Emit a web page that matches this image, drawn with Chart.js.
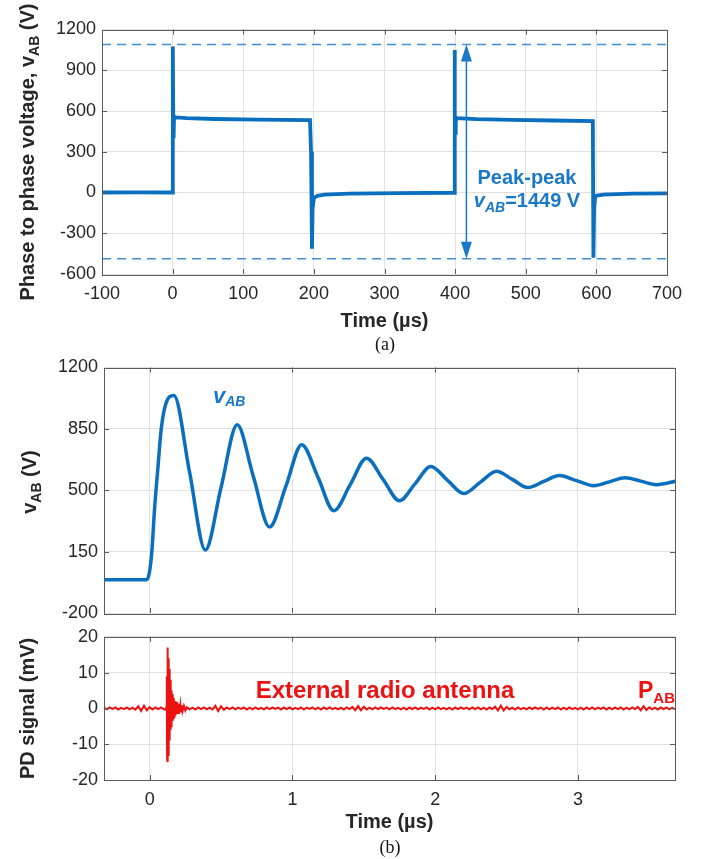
<!DOCTYPE html>
<html><head><meta charset="utf-8">
<script src="https://cdn.jsdelivr.net/npm/chart.js@4.4.1/dist/chart.umd.min.js"></script>
<style>
html,body{margin:0;padding:0;background:#fff;}
body{width:709px;height:859px;position:relative;overflow:hidden;}
canvas{position:absolute;left:0;}
.cap{position:absolute;font-family:"Liberation Serif","Times New Roman",serif;font-size:18px;color:#111;transform:translate(-50%,-50%);white-space:nowrap;}
</style></head><body>
<canvas id="ca" width="709" height="335" style="top:0px"></canvas>
<canvas id="cb" width="709" height="280" style="top:350px"></canvas>
<canvas id="cc" width="709" height="239" style="top:620px"></canvas>
<div class="cap" style="left:385px;top:344px">(a)</div>
<div class="cap" style="left:390px;top:847px">(b)</div>
<script>
// ---------- DATA ----------
// (a) phase-to-phase voltage over two switching periods
const timeA = [-100, -50, -0.3, 0.3, 0.9, 1.4, 2.0, 5, 20, 60, 120, 194.5, 196, 197.3, 198.2, 200, 205, 215, 250, 320, 398.6, 399.2, 399.8, 400.3, 400.9, 403, 430, 480, 540, 595, 595.8, 596.8, 598.5, 610, 650, 700];
const voltA = [0, 1, 0, 1075, 540, 400, 560, 553, 548, 541, 537, 533, 300, -414, -120, -40, -25, -15, -8, -4, -2, 1049, 560, 440, 552, 547, 540, 534, 530, 526, -480, -110, -25, -15, -8, -6];
const xTicksA = [-100, 0, 100, 200, 300, 400, 500, 600, 700];
const yTicksA = [-600, -300, 0, 300, 600, 900, 1200];
const peakLevelsA = [1090, -487];
const arrowTimeA = 416;
const peakPeakValue = '1449';

// (b) top: vAB ringing after switching edge
const timeB = [-0.32, -0.02, 0.012, 0.035, 0.058, 0.08, 0.11, 0.17, 0.28, 0.39, 0.50, 0.613, 0.725, 0.84, 0.955, 1.065, 1.18, 1.29, 1.405, 1.519, 1.635, 1.75, 1.86, 1.97, 2.085, 2.2, 2.315, 2.43, 2.54, 2.65, 2.76, 2.87, 2.99, 3.11, 3.22, 3.33, 3.44, 3.55, 3.69];
const voltB = [-10, -10, 120, 403, 631, 843, 985, 1041, 600, 159, 516, 873, 582, 290, 525, 760, 572, 383, 532, 683, 562, 440, 538, 636, 558, 481, 545, 608, 562, 515, 550, 584, 555, 526, 548, 571, 552, 532, 552];
const xTicksB = [0, 1, 2, 3];
const yTicksB = [-200, 150, 500, 850, 1200];

// (b) bottom: PD signal from external radio antenna (mV)
const pdBeforeStart = -0.32, pdStep = 0.02;
const pdBefore = [0.2,-0.25,0.3,-0.15,0.25,-0.3,0.15,-0.2,0.3,-0.25,0.2,-0.35,0.6,-0.7,0.75,-0.55,0.35,-0.3,0.25,-0.2,0.3,-0.25];
const pdBurstTime = [0.112,0.118,0.120,0.122,0.124,0.126,0.128,0.130,0.132,0.134,0.136,0.138,0.140,0.142,0.144,0.146,0.148,0.150,0.152,0.155,0.158,0.161,0.164,0.167,0.170,0.174,0.178,0.182,0.186,0.190,0.195,0.200,0.205,0.210,0.215,0.220,0.225,0.230,0.240,0.250];
const pdBurstVal = [-0.4,0.5,9,-14,17,-15,16,-13,14,-11,11,-9,9,-7,8,-6,6,-5,5,-4,4,-3.5,3,-3,2.5,-2.5,2,-2,1.8,-1.5,1.5,-1.3,1.2,-1,1,-0.9,0.9,-0.8,0.7,-0.6];
const pdAfterStart = 0.26;
const pdAfter = [
0.3,-0.25,0.2,-0.3,0.25,-0.2,0.3,-0.25,0.2,-0.3,
0.7,-0.75,0.6,-0.4,0.25,-0.2,0.3,-0.25,0.2,-0.15,
0.25,-0.3,0.2,-0.25,0.3,-0.2,0.15,-0.25,0.3,-0.2,
0.25,-0.15,0.2,-0.3,0.25,-0.2,0.3,-0.25,0.15,-0.2,
0.25,-0.3,0.2,-0.15,0.25,-0.25,0.2,-0.3,0.25,-0.2,
0.3,-0.2,0.15,-0.25,0.2,-0.3,0.25,-0.2,0.4,-0.5,
0.65,-0.55,0.45,-0.3,0.2,-0.25,0.3,-0.2,0.25,-0.15,
0.2,-0.25,0.3,-0.2,0.15,-0.25,0.2,-0.3,0.25,-0.2,
0.3,-0.25,0.2,-0.15,0.25,-0.3,0.2,-0.25,0.3,-0.2,
0.15,-0.25,0.2,-0.3,0.25,-0.2,0.3,-0.15,0.2,-0.25,
0.25,-0.2,0.3,-0.25,0.2,-0.3,0.25,-0.2,0.45,-0.6,
0.75,-0.6,0.4,-0.25,0.2,-0.3,0.25,-0.2,0.15,-0.25,
0.3,-0.2,0.25,-0.15,0.2,-0.3,0.25,-0.25,0.2,-0.2,
0.25,-0.3,0.2,-0.25,0.3,-0.2,0.15,-0.25,0.2,-0.3,
0.25,-0.2,0.3,-0.25,0.2,-0.15,0.25,-0.3,0.2,-0.25,
0.3,-0.2,0.25,-0.3,0.2,-0.25,0.3,-0.2,0.4,-0.55,
0.6,-0.45,0.3,-0.25,0.2,-0.3,0.25,-0.2,0.3,-0.25,
0.2,-0.25];
const yTicksPD = [-20, -10, 0, 10, 20];

// ---------- STYLE / HELPERS ----------
const FONT = '"Liberation Sans", Arial, Helvetica, sans-serif';
Chart.defaults.font.family = FONT;
Chart.defaults.color = '#262626';
const BLUE = '#0b6fc0', DASH = '#3f8fd4', RED = '#ee1111', GRID = '#e1e1e1';

function pts(xs, ys) { return xs.map((x, i) => ({x: x, y: ys[i]})); }
function grid(start, step, n) { const r = []; for (let i = 0; i < n; i++) r.push(Math.round((start + i * step) * 1000) / 1000); return r; }

const pdTime = grid(pdBeforeStart, pdStep, pdBefore.length).concat(pdBurstTime, grid(pdAfterStart, pdStep, pdAfter.length));
const pdVal = pdBefore.concat(pdBurstVal, pdAfter);

function drawRuns(ctx, item) {
  ctx.save();
  ctx.translate(item.x, item.y);
  if (item.rotate) ctx.rotate(item.rotate);
  let total = 0; const ws = [];
  item.runs.forEach(r => { ctx.font = r.font; const w = ctx.measureText(r.t).width; ws.push(w); total += w; });
  let x = item.align === 'left' ? 0 : -total / 2;
  ctx.textBaseline = 'alphabetic';
  item.runs.forEach((r, i) => { ctx.font = r.font; ctx.fillStyle = r.color || item.color || '#262626'; ctx.fillText(r.t, x, r.dy || 0); x += ws[i]; });
  ctx.restore();
}

const framePlugin = {
  id: 'frame',
  afterDraw(chart, args, opts) {
    const ctx = chart.ctx, a = chart.chartArea, xs = chart.scales.x, ys = chart.scales.y;
    ctx.save();
    if (opts.arrow) {
      const ar = opts.arrow;
      const px = xs.getPixelForValue(ar.x), p1 = ys.getPixelForValue(ar.y1), p2 = ys.getPixelForValue(ar.y2);
      ctx.strokeStyle = ar.color; ctx.fillStyle = ar.color; ctx.lineWidth = 1.5;
      ctx.beginPath(); ctx.moveTo(px, p1 + ar.head - 2); ctx.lineTo(px, p2 - ar.head + 2); ctx.stroke();
      ctx.beginPath(); ctx.moveTo(px, p1); ctx.lineTo(px - ar.hw, p1 + ar.head); ctx.lineTo(px + ar.hw, p1 + ar.head); ctx.closePath(); ctx.fill();
      ctx.beginPath(); ctx.moveTo(px, p2); ctx.lineTo(px - ar.hw, p2 - ar.head); ctx.lineTo(px + ar.hw, p2 - ar.head); ctx.closePath(); ctx.fill();
    }
    const L = 5;
    ctx.strokeStyle = '#5c5c5c'; ctx.lineWidth = 1;
    ctx.beginPath();
    xs.ticks.forEach(t => {
      const px = Math.round(xs.getPixelForValue(t.value)) + 0.5;
      if (px <= a.left + 2 || px >= a.right - 2) return;
      ctx.moveTo(px, a.bottom); ctx.lineTo(px, a.bottom - L);
      ctx.moveTo(px, a.top); ctx.lineTo(px, a.top + L);
    });
    ys.ticks.forEach(t => {
      const py = Math.round(ys.getPixelForValue(t.value)) + 0.5;
      if (py <= a.top + 2 || py >= a.bottom - 2) return;
      ctx.moveTo(a.left, py); ctx.lineTo(a.left + L, py);
      ctx.moveTo(a.right, py); ctx.lineTo(a.right - L, py);
    });
    ctx.stroke();
    ctx.strokeRect(Math.round(a.left) + 0.5, Math.round(a.top) + 0.5, Math.round(a.right - a.left), Math.round(a.bottom - a.top));
    (opts.texts || []).forEach(it => drawRuns(ctx, it));
    ctx.restore();
  }
};

function setTicks(list) { return s => { s.ticks = list.map(v => ({value: v})); }; }
const plain = v => String(v);
function xAxis(min, max, list, h, showLabels, title, titlePad) {
  return {
    type: 'linear', min: min, max: max,
    afterBuildTicks: setTicks(list),
    afterFit: s => { s.height = h; },
    grid: {color: GRID, lineWidth: 1, drawTicks: false},
    border: {display: false},
    ticks: {display: showLabels, font: {size: 18}, color: '#262626', padding: 9, maxRotation: 0, autoSkip: false, callback: plain},
    title: {display: !!title, text: title || '', font: {size: 20, weight: 'bold'}, color: '#262626', padding: {top: 0, bottom: titlePad || 0}}
  };
}
function yAxis(min, max, list, w, title) {
  return {
    type: 'linear', min: min, max: max,
    afterBuildTicks: setTicks(list),
    afterFit: s => { s.width = w; },
    grid: {color: GRID, lineWidth: 1, drawTicks: false},
    border: {display: false},
    ticks: {font: {size: 18}, color: '#262626', padding: 6, autoSkip: false, callback: plain},
    title: {display: !!title, text: title || '', font: {size: 20, weight: 'bold'}, color: '#262626', padding: {top: 16, bottom: 0}}
  };
}
const base = {responsive: false, animation: false, events: []};
const B20 = 'bold 20px ' + FONT, B14 = 'bold 14px ' + FONT;

// ---------- (a) ----------
new Chart(document.getElementById('ca'), {
  type: 'line',
  data: {datasets: [
    {data: pts(timeA, voltA), borderColor: BLUE, borderWidth: 3.8, pointRadius: 0, tension: 0},
    {data: pts([-100, 700], [peakLevelsA[0], peakLevelsA[0]]), borderColor: DASH, borderWidth: 1.5, borderDash: [9, 6], pointRadius: 0},
    {data: pts([-100, 700], [peakLevelsA[1], peakLevelsA[1]]), borderColor: DASH, borderWidth: 1.5, borderDash: [9, 6], pointRadius: 0}
  ]},
  options: Object.assign({}, base, {
    layout: {padding: {left: 0, right: 42, top: 29.5, bottom: 0}},
    plugins: {legend: {display: false}, tooltip: {enabled: false},
      frame: {
        arrow: {x: arrowTimeA, y1: peakLevelsA[0], y2: peakLevelsA[1], color: '#1a78c8', head: 17, hw: 5.5},
        texts: [
          {x: 34, y: 152, rotate: -Math.PI / 2, runs: [{t: 'Phase to phase voltage, v', font: B20}, {t: 'AB', font: B14, dy: 5}, {t: ' (V)', font: B20}]},
          {x: 527, y: 184, color: '#1a78c8', runs: [{t: 'Peak-peak', font: 'bold 20px ' + FONT}]},
          {x: 527, y: 207, color: '#1a78c8', runs: [{t: 'v', font: 'italic bold 20px ' + FONT}, {t: 'AB', font: 'italic bold 14px ' + FONT, dy: 5}, {t: '=' + peakPeakValue + ' V', font: 'bold 20px ' + FONT}]}
        ]
      }},
    scales: {
      x: xAxis(-100, 700, xTicksA, 61, true, 'Time (µs)', 2),
      y: yAxis(-600, 1200, yTicksA, 102)
    }
  }),
  plugins: [framePlugin]
});

// ---------- (b) top ----------
new Chart(document.getElementById('cb'), {
  type: 'line',
  data: {datasets: [
    {data: pts(timeB, voltB), borderColor: BLUE, borderWidth: 3.5, pointRadius: 0, cubicInterpolationMode: 'monotone'}
  ]},
  options: Object.assign({}, base, {
    layout: {padding: {left: 0, right: 34, top: 17.5, bottom: 0}},
    plugins: {legend: {display: false}, tooltip: {enabled: false},
      frame: {texts: [
        {x: 36, y: 132, rotate: -Math.PI / 2, runs: [{t: 'v', font: B20}, {t: 'AB', font: B14, dy: 5}, {t: ' (V)', font: B20}]},
        {x: 213, y: 53, align: 'left', color: '#1a78c8', runs: [{t: 'v', font: 'italic bold 22px ' + FONT}, {t: 'AB', font: 'italic bold 14px ' + FONT, dy: 3}]}
      ]}},
    scales: {
      x: xAxis(-0.32, 3.68, xTicksB, 17, false),
      y: yAxis(-200, 1200, yTicksB, 104)
    }
  }),
  plugins: [framePlugin]
});

// ---------- (b) bottom ----------
new Chart(document.getElementById('cc'), {
  type: 'line',
  data: {datasets: [
    {data: pts(pdTime, pdVal), borderColor: RED, borderWidth: 2, pointRadius: 0, tension: 0}
  ]},
  options: Object.assign({}, base, {
    layout: {padding: {left: 0, right: 34, top: 13, bottom: 0}},
    plugins: {legend: {display: false}, tooltip: {enabled: false},
      frame: {texts: [
        {x: 385, y: 78, color: RED, runs: [{t: 'External radio antenna', font: 'bold 24px ' + FONT}]},
        {x: 638, y: 78, align: 'left', color: RED, runs: [{t: 'P', font: 'bold 23px ' + FONT}, {t: 'AB', font: 'bold 15px ' + FONT, dy: 5}]}
      ]}},
    scales: {
      x: xAxis(-0.32, 3.68, xTicksB, 79, true, 'Time (µs)', 25),
      y: yAxis(-20, 20, yTicksPD, 104, 'PD signal (mV)')
    }
  }),
  plugins: [framePlugin]
});
</script>
</body></html>
